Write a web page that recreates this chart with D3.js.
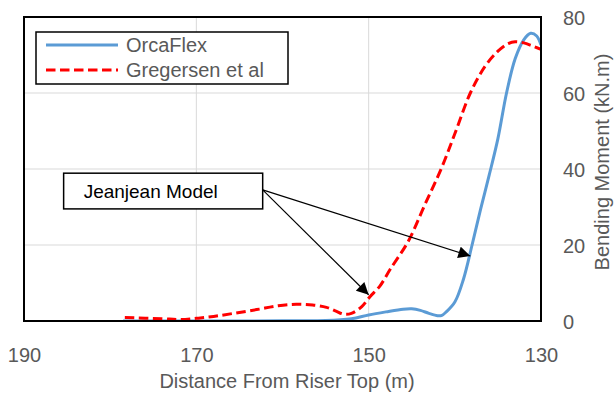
<!DOCTYPE html>
<html>
<head>
<meta charset="utf-8">
<script src="https://cdn.jsdelivr.net/npm/d3@7"></script>
<style>
  html, body { margin: 0; padding: 0; background: #fff; }
  svg { display: block; font-family: Arial, "Liberation Sans", sans-serif; }
</style>
</head>
<body>
<svg id="chart" width="616" height="398"></svg>
<script>
// ---------- data ----------
const orcaDistance = [178.5, 170, 160, 155, 152, 150, 148, 146, 145, 144, 143, 142, 141.5, 141, 140, 139, 138, 137, 136, 135, 134, 133, 132, 131.2, 130.5, 130];
const orcaMoment   = [0, 0, 0.05, 0.1, 0.6, 1.6, 2.4, 3.1, 3.2, 2.8, 2.0, 1.4, 1.5, 2.4, 5, 11, 20, 29.5, 38.5, 48, 60, 69, 74, 75.7, 75, 72.6];

const gregDistance = [178.3, 174, 171.9, 170, 168, 165.7, 163, 160.5, 158.4, 156.5, 154.9, 153.8, 152.9, 152, 150.8, 149.85, 148.7, 147.5, 145.4, 143.5, 141.5, 139.8, 138.2, 136.5, 135, 133.8, 133, 132, 131, 130];
const gregMoment   = [0.9, 0.6, 0.4, 0.7, 1.2, 2.0, 3.0, 4.0, 4.4, 4.2, 3.6, 2.6, 1.8, 2.0, 3.8, 6.4, 9.2, 13.6, 21, 30.5, 40.5, 50.5, 60, 67, 71, 73, 73.5, 73.2, 72.4, 71.5];

const seriesNames = ["OrcaFlex", "Gregersen et al"];
const xTicks = [190, 170, 150, 130];
const yTicks = [0, 20, 40, 60, 80];
const xTitle = "Distance From Riser Top (m)";
const yTitle = "Bending Moment (kN.m)";

// annotation (in data units)
const noteText = "Jeanjean Model";
const noteBox = [185.4, 162.3, 38.9, 29.5];        // d-left, d-right, v-top, v-bottom
const noteFrom = [162.3, 34.5];                    // arrow start
const noteTargets = [[150, 6.9], [138.2, 17.1]];   // arrow tips

// ---------- layout ----------
const svg = d3.select("#chart");
const L = 24, R = 541, T = 17, B = 321;
const x = d3.scaleLinear().domain([190, 130]).range([L, R]);
const y = d3.scaleLinear().domain([0, 80]).range([B, T]);
const grey = "#595959";

// gridlines
svg.append("g").selectAll("line.v").data(xTicks.slice(1, -1)).join("line")
  .attr("x1", d => x(d)).attr("x2", d => x(d)).attr("y1", T).attr("y2", B)
  .attr("stroke", "#d9d9d9").attr("stroke-width", 1);
svg.append("g").selectAll("line.h").data(yTicks.slice(1, -1)).join("line")
  .attr("x1", L).attr("x2", R).attr("y1", d => y(d)).attr("y2", d => y(d))
  .attr("stroke", "#d9d9d9").attr("stroke-width", 1);

// x axis labels
const xAxis = d3.axisBottom(x).tickValues(xTicks).tickSize(0).tickPadding(0).tickFormat(d3.format("d"));
const gx = svg.append("g").attr("transform", `translate(0,${B})`).call(xAxis);
gx.select(".domain").remove();
gx.selectAll("text").attr("font-size", 20).attr("fill", grey).attr("font-family", "Arial, 'Liberation Sans', sans-serif")
  .attr("dy", null).attr("y", 41);

// y axis labels (right)
const yAxis = d3.axisRight(y).tickValues(yTicks).tickSize(0).tickPadding(0);
const gy = svg.append("g").attr("transform", `translate(${R},0)`).call(yAxis);
gy.select(".domain").remove();
gy.selectAll("text").attr("font-size", 20).attr("fill", grey).attr("font-family", "Arial, 'Liberation Sans', sans-serif")
  .attr("x", 22).attr("dy", "0.35em");

// axis titles
svg.append("text").attr("x", 287).attr("y", 388).attr("text-anchor", "middle")
  .attr("font-size", 20).attr("fill", grey).text(xTitle);
svg.append("text").attr("transform", "translate(609,162) rotate(-90)").attr("text-anchor", "middle")
  .attr("font-size", 20).attr("fill", grey).text(yTitle);

// clip
svg.append("clipPath").attr("id", "clip").append("rect")
  .attr("x", L).attr("y", T - 5).attr("width", R - L).attr("height", B - T + 5);

const line = d3.line().x(d => x(d[0])).y(d => y(d[1])).curve(d3.curveCatmullRom.alpha(0.5));
const orca = orcaDistance.map((d, i) => [d, orcaMoment[i]]);
const greg = gregDistance.map((d, i) => [d, gregMoment[i]]);

const plot = svg.append("g").attr("clip-path", "url(#clip)");
plot.append("path").attr("d", line(orca)).attr("fill", "none")
  .attr("stroke", "#5b9bd5").attr("stroke-width", 3).attr("stroke-linejoin", "round");
plot.append("path").attr("d", line(greg)).attr("fill", "none")
  .attr("stroke", "#ff0000").attr("stroke-width", 3).attr("stroke-dasharray", "9.5,4.5");

// plot border
svg.append("rect").attr("x", L).attr("y", T).attr("width", R - L).attr("height", B - T)
  .attr("fill", "none").attr("stroke", "#000").attr("stroke-width", 2);

// legend
const lg = svg.append("g");
lg.append("rect").attr("x", 36).attr("y", 32).attr("width", 252).attr("height", 52)
  .attr("fill", "#fff").attr("stroke", "#000").attr("stroke-width", 1.5);
const legendStyles = [{ c: "#5b9bd5", dash: null }, { c: "#ff0000", dash: "9.5,4.5" }];
seriesNames.forEach((name, i) => {
  const yy = 45 + i * 25;
  lg.append("line").attr("x1", 46).attr("x2", 118).attr("y1", yy).attr("y2", yy)
    .attr("stroke", legendStyles[i].c).attr("stroke-width", 3)
    .attr("stroke-dasharray", legendStyles[i].dash);
  lg.append("text").attr("x", 126).attr("y", yy).attr("dy", "0.35em")
    .attr("font-size", 20).attr("fill", grey).text(name);
});

// annotation
svg.append("defs").append("marker").attr("id", "arrow").attr("viewBox", "0 0 10 10")
  .attr("refX", 10).attr("refY", 5).attr("markerWidth", 14).attr("markerHeight", 12)
  .attr("markerUnits", "userSpaceOnUse").attr("orient", "auto")
  .append("path").attr("d", "M0,0 L10,5 L0,10 Z").attr("fill", "#000");

svg.append("rect").attr("x", x(noteBox[0])).attr("y", y(noteBox[2]))
  .attr("width", x(noteBox[1]) - x(noteBox[0])).attr("height", y(noteBox[3]) - y(noteBox[2]))
  .attr("fill", "#fff").attr("stroke", "#000").attr("stroke-width", 1.5);
svg.append("text").attr("x", x(noteBox[0]) + 20).attr("y", (y(noteBox[2]) + y(noteBox[3])) / 2)
  .attr("dy", "0.35em").attr("font-size", 19).attr("fill", "#000").text(noteText);
noteTargets.forEach(t => {
  svg.append("line").attr("x1", x(noteFrom[0])).attr("y1", y(noteFrom[1]))
    .attr("x2", x(t[0])).attr("y2", y(t[1]))
    .attr("stroke", "#000").attr("stroke-width", 1.2).attr("marker-end", "url(#arrow)");
});
</script>
</body>
</html>
